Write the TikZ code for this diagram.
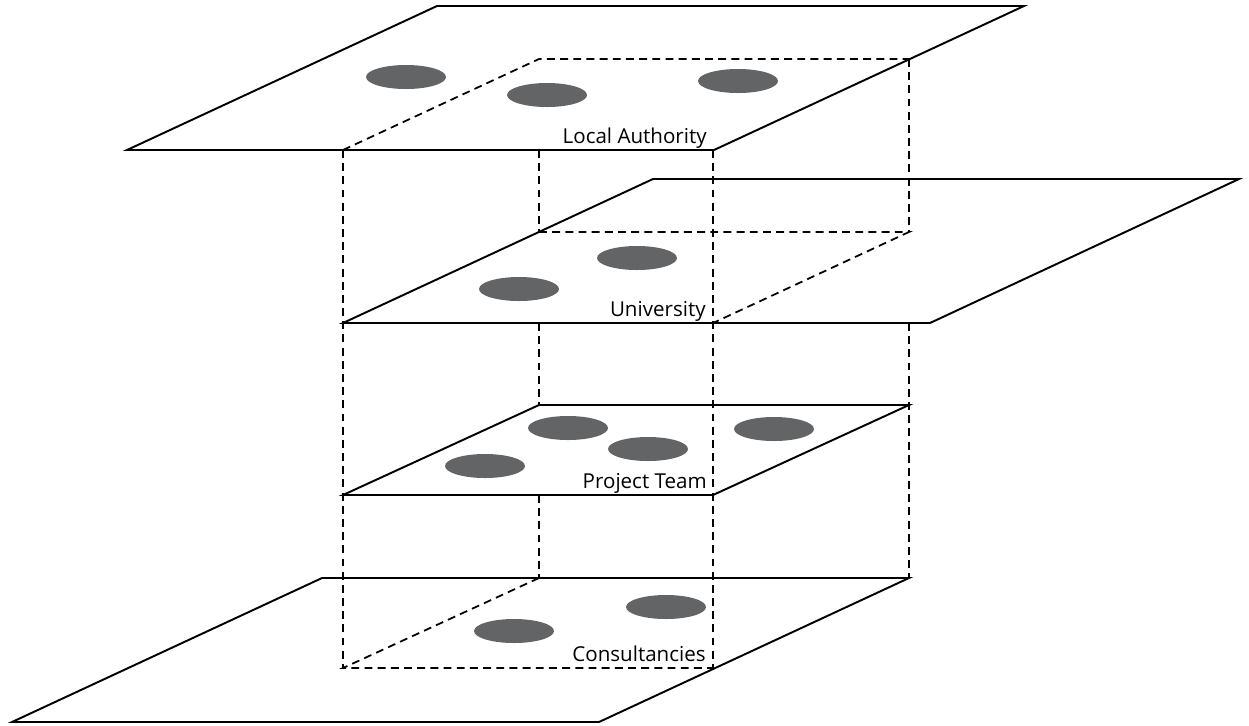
\documentclass[tikz,border=0pt]{standalone}
\usepackage{fontspec}
\setmainfont{Open Sans}
\usetikzlibrary{positioning}
\definecolor{membergray}{RGB}{99,100,102}

\begin{document}
\begin{tikzpicture}[x=0.02cm,y=-0.02cm,font=\fontsize{11.7}{14}\selectfont,
  plane/.style={draw, line width=1.1pt},
  hidden/.style={draw, line width=1pt, dash pattern=on 4.5pt off 3pt},
  member/.style={fill=membergray},
  layer/.style={anchor=base east, inner sep=0pt}]

\useasboundingbox (0,0) rectangle (1249,725);

% Planes
\draw[plane] (127,150) -- (714,150) -- (1024,6) -- (437,6) -- cycle;
\draw[plane] (343,323) -- (930,323) -- (1239,179) -- (653,179) -- cycle;
\draw[plane] (343,495) -- (713,495) -- (909,405) -- (539,405) -- cycle;
\draw[plane] (12,722) -- (599,722) -- (909,578) -- (322,578) -- cycle;

% Front edges of the box
\draw[hidden] (343,150) -- (343,668);
\draw[hidden] (713,150) -- (713,668);

% Back edges, between the planes
\draw[hidden] (539,150) -- (539,232);
\draw[hidden] (539,323) -- (539,405);
\draw[hidden] (539,495) -- (539,578);
\draw[hidden] (909,59) -- (909,232);
\draw[hidden] (909,323) -- (909,578);

% Sections on the planes
\draw[hidden] (343,150) -- (539,59) -- (909,59);
\draw[hidden] (539,232) -- (909,232) -- (713,323);
\draw[hidden] (539,578) -- (343,668) -- (713,668);

% Members
\fill[member] (406,77) ellipse [x radius=40, y radius=12];
\fill[member] (547,95) ellipse [x radius=40, y radius=12];
\fill[member] (738,81) ellipse [x radius=40, y radius=12];

\fill[member] (637,258) ellipse [x radius=40, y radius=12];
\fill[member] (519,289) ellipse [x radius=40, y radius=12];

\fill[member] (568,428) ellipse [x radius=40, y radius=12];
\fill[member] (648,449) ellipse [x radius=40, y radius=12];
\fill[member] (774,429) ellipse [x radius=40, y radius=12];
\fill[member] (485,466) ellipse [x radius=40, y radius=12];

\fill[member] (666,607) ellipse [x radius=40, y radius=12];
\fill[member] (514,631) ellipse [x radius=40, y radius=12];

% Layer names
\node[layer] (authority) at (707,143) {Local Authority};
\node[layer] (university) at (706,316) {University};
\node[layer] (team) at (707,488) {Project Team};
\node[layer] (consultancies) at (706,661) {Consultancies};

\end{tikzpicture}
\end{document}
